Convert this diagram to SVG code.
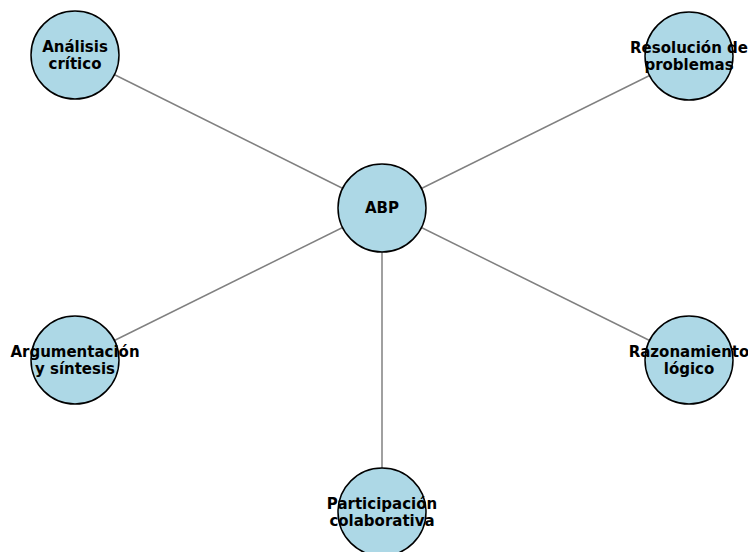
<svg xmlns="http://www.w3.org/2000/svg" width="748" height="552" viewBox="0 0 748 552">
<style>
.e{stroke:#808080;stroke-width:1.5;fill:none}
.n{fill:#ADD8E6;stroke:#000;stroke-width:1.5}
.t{font-family:"DejaVu Sans",sans-serif;font-weight:bold;font-size:15px;fill:#000;text-anchor:middle}
</style>
<rect width="748" height="552" fill="#fff"/>
<g id="edges">
<line class="e" x1="382" y1="208" x2="75" y2="55"/>
<line class="e" x1="382" y1="208" x2="689" y2="56"/>
<line class="e" x1="382" y1="208" x2="75" y2="360"/>
<line class="e" x1="382" y1="208" x2="689" y2="360"/>
<line class="e" x1="382" y1="208" x2="382" y2="512"/>
</g>
<g id="n-abp"><circle class="n" cx="382" cy="208" r="44"/><text class="t" x="382" y="213">ABP</text></g>
<g id="n-analisis"><circle class="n" cx="75" cy="55" r="44"/><text class="t" x="75" y="52">Análisis</text><text class="t" x="75" y="69">crítico</text></g>
<g id="n-resolucion"><circle class="n" cx="689" cy="56" r="44"/><text class="t" x="689" y="53">Resolución de</text><text class="t" x="689" y="70">problemas</text></g>
<g id="n-argumentacion"><circle class="n" cx="75" cy="360" r="44"/><text class="t" x="75" y="357">Argumentación</text><text class="t" x="75" y="374">y síntesis</text></g>
<g id="n-razonamiento"><circle class="n" cx="689" cy="360" r="44"/><text class="t" x="689" y="357">Razonamiento</text><text class="t" x="689" y="374">lógico</text></g>
<g id="n-participacion"><circle class="n" cx="382" cy="512" r="44"/><text class="t" x="382" y="509">Participación</text><text class="t" x="382" y="526">colaborativa</text></g>
</svg>
